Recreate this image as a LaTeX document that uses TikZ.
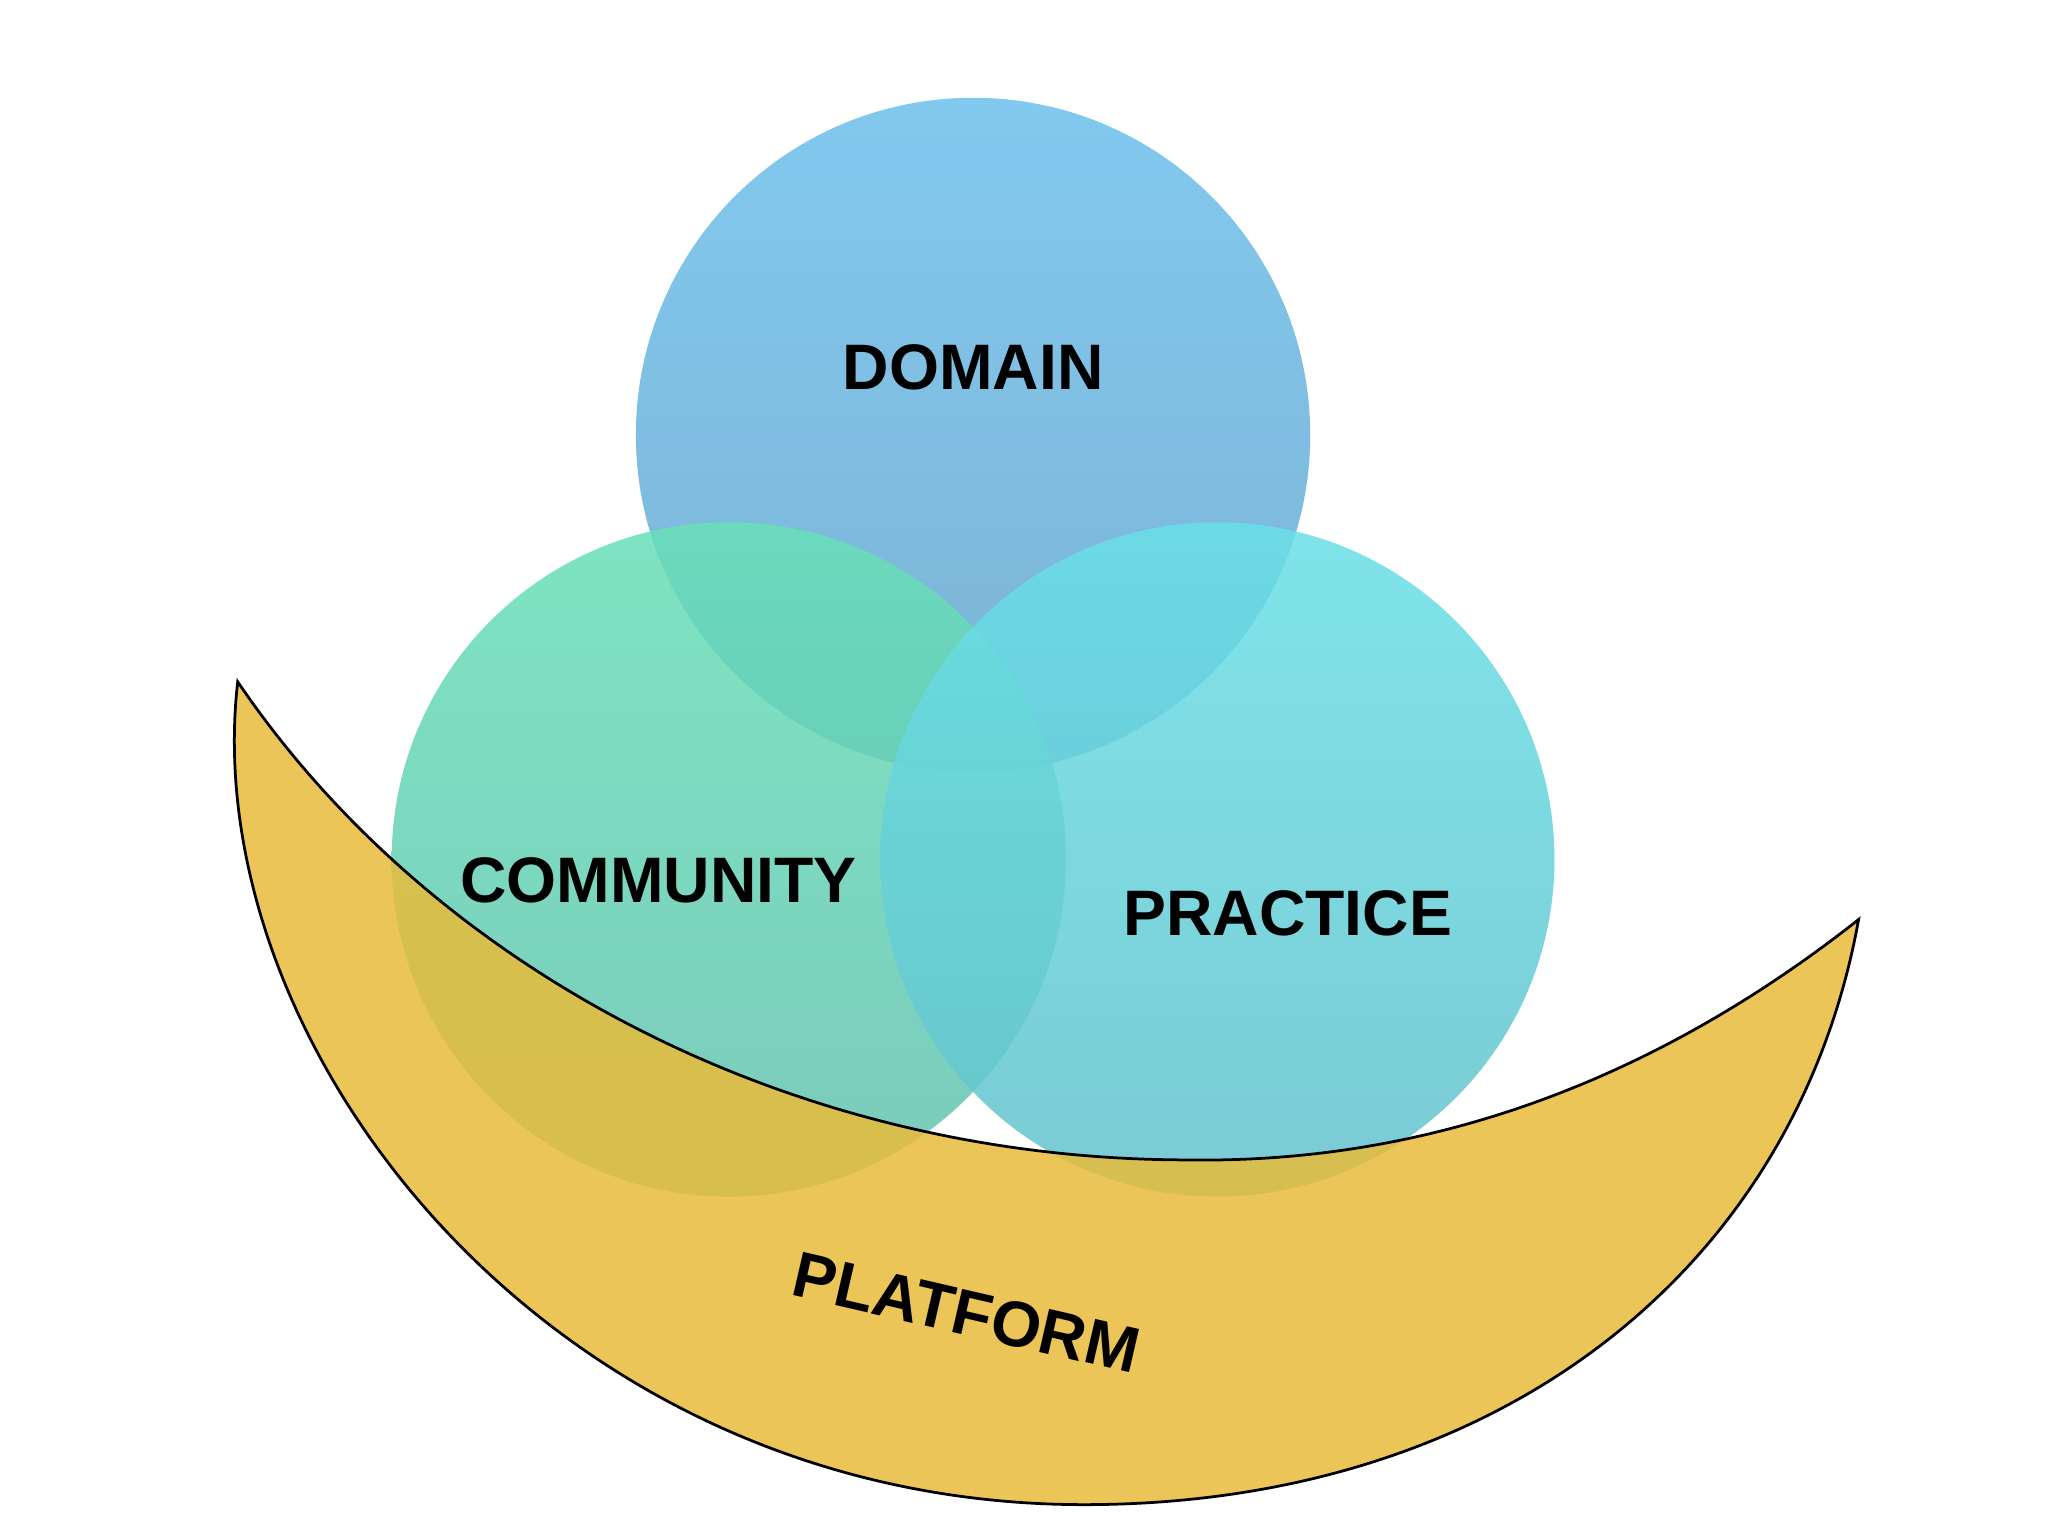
\documentclass[tikz,border=0pt]{standalone}
\usepackage{fontspec}
\setmainfont{Liberation Sans}
\definecolor{dT}{RGB}{108,192,236}
\definecolor{dB}{RGB}{102,166,206}
\definecolor{cT}{RGB}{104,224,184}
\definecolor{cB}{RGB}{100,194,176}
\definecolor{pT}{RGB}{106,224,232}
\definecolor{pB}{RGB}{100,194,204}
\definecolor{gold}{RGB}{232,188,58}
\begin{document}
\begin{tikzpicture}[x=0.01cm,y=-0.01cm,
  ring/.style={circle,minimum size=5.16cm,inner sep=0pt,fill opacity=0.85},
  lab/.style={font=\fontsize{14}{16}\selectfont\bfseries,text=black}]
\useasboundingbox (0,0) rectangle (1568,1176);
\fill[white] (0,0) rectangle (1568,1176);
\node[ring,top color=dT,bottom color=dB] (dom) at (745,333) {};
\node[ring,top color=cT,bottom color=cB] (com) at (558,658) {};
\node[ring,top color=pT,bottom color=pB] (pra) at (932,658) {};
\path[fill=gold,fill opacity=0.85,draw=black,draw opacity=1,line width=0.6pt]
 (182,522) .. controls (150,800) and (420,1152) .. (830,1152)
 .. controls (1150,1152) and (1375,970) .. (1423,704)
 .. controls (1200,880) and (1000,890) .. (900,888)
 .. controls (600,885) and (330,740) .. (182,522) -- cycle;
\node[lab] (d) at (745,281) {DOMAIN};
\node[lab] (c) at (504,674) {COMMUNITY};
\node[lab] (p) at (986,699) {PRACTICE};
\node[lab,rotate=-13] (pl) at (740,1005) {PLATFORM};
\end{tikzpicture}
\end{document}
